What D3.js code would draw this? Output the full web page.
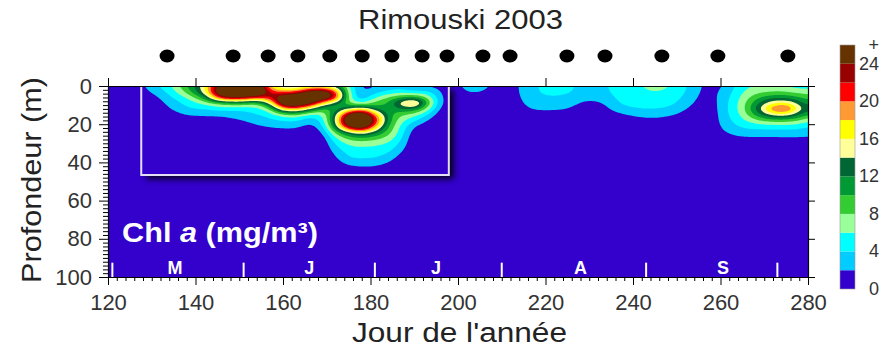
<!DOCTYPE html>
<html><head><meta charset="utf-8">
<script src="https://cdn.jsdelivr.net/npm/d3@7"></script>
<style>
body{margin:0;background:#fff;}
svg{display:block;font-family:"Liberation Sans",Arial,Helvetica,sans-serif;}
</style>
</head><body>
<svg id="chart" width="881" height="353"></svg>
<script>
// ---------------- DATA ----------------
const chartTitle = "Rimouski 2003";
const xLabel = "Jour de l'année";
const yLabel = "Profondeur (m)";
// sampling dates (black dots)
const stationDays = [133.5, 148.6, 156.6, 163.4, 170.7, 178.1, 184.9, 191.8, 197.5, 205.7, 211.9, 224.9, 233.6, 246.6, 259.4, 275.4];
// chlorophyll field: one profile per grid day, values at gridDepths (missing tail = 0)
const gridDepths = [0, 3, 6, 9, 12, 15, 18, 21, 24, 27, 30, 34, 38, 42, 46, 100];
const gridDays = [120, 127, 130, 134, 138, 142, 146, 150, 154, 157, 160, 163, 166, 169, 172, 175, 178, 181, 184, 187, 190, 193, 196, 199, 202, 205, 209, 213, 217, 221, 225, 229, 233, 237, 241, 245, 249, 253, 257, 261, 265, 269, 272, 275, 278, 280];
const chlProfiles = [
  [0],
  [1.2, 0.8, 0.3, 0],
  [3, 2.2, 1, 0.3, 0],
  [5.5, 4.5, 3.5, 2.6, 1.8, 0.8, 0],
  [10, 8.5, 6, 4.5, 3.8, 2.1, 1.0, 0.3, 0],
  [15, 15, 10.5, 6.5, 4, 2.2, 1.2, 0.5, 0],
  [27, 30, 24, 8.5, 4.8, 2.3, 1.2, 0.5, 0],
  [30, 33, 25, 9.5, 4.3, 3, 1.8, 0.8, 0],
  [30, 32, 21, 7.5, 5, 3.8, 2.8, 1.8, 0.8, 0],
  [16, 21.5, 22, 14, 7, 4.8, 3.4, 2.2, 1.2, 0.5, 0],
  [13, 19, 28, 29, 18, 7, 4.2, 2.5, 1.2, 0.4, 0],
  [12, 20, 30, 30, 19, 8, 4.3, 2.6, 1.2, 0.4, 0],
  [14, 26, 32, 26, 14, 5, 2.3, 1.2, 0.5, 0],
  [14, 28, 29, 17, 9, 5.5, 4.2, 2.8, 1.5, 0.6, 0],
  [12, 22, 23, 12, 10, 13, 14, 13, 9, 6, 4.5, 2.8, 1.5, 0.5, 0],
  [6, 6, 6.5, 8, 14, 26, 31, 26, 14, 9, 6.5, 5, 4, 1.8, 0.5, 0],
  [1.2, 1.5, 1.8, 5, 17, 31, 34, 30, 17, 10, 7, 5, 4.1, 2, 0.6, 0],
  [1.8, 3, 6, 9, 12, 19, 23, 19, 13, 9, 6.5, 5, 4, 2, 0.5, 0],
  [2.5, 4.5, 8, 10, 10, 11, 11, 10, 9, 7.5, 6, 4.6, 3, 1.2, 0.3, 0],
  [3, 5, 10, 16, 12, 8, 6.5, 5.5, 5, 4.5, 3.5, 2.2, 0.8, 0],
  [1.5, 4, 11, 20.5, 12, 7, 4.5, 1.9, 0.8, 0],
  [1.5, 4.5, 8, 10, 7, 4, 1.8, 0.7, 0],
  [1.2, 1.8, 2.2, 2.1, 1.2, 0.4, 0],
  [0.8, 0.3, 0],
  [3, 2.2, 0.8, 0],
  [3, 2.3, 0.8, 0],
  [1.2, 0.6, 0],
  [1.5, 1.5, 1.4, 1.2, 0.8, 0.3, 0],
  [3.5, 3.5, 3.2, 2.8, 2.2, 1.2, 0.4, 0],
  [5, 4.8, 3.8, 3, 2.3, 1.2, 0.4, 0],
  [4.6, 4.4, 3.5, 2.8, 2.1, 1, 0.3, 0],
  [3.2, 3, 2.4, 1.6, 0.8, 0],
  [3.5, 3.3, 2.6, 1.8, 1, 0.4, 0],
  [5, 5, 4.6, 4.2, 3.4, 1.5, 0.5, 0],
  [5.8, 5.6, 5, 4.6, 4, 2.6, 1.2, 0.4, 0],
  [6.6, 6.1, 5.3, 4.8, 4.1, 2.8, 1.5, 0.5, 0],
  [6, 5.6, 5, 4.4, 3.6, 2.2, 1, 0.3, 0],
  [3.6, 3.4, 3, 2.4, 1.6, 0.8, 0],
  [1.2, 1, 0.7, 0.4, 0.2, 0],
  [1.9, 2.6, 3.1, 3.3, 3.4, 3.3, 3.1, 2.7, 2, 1.2, 0.5, 0],
  [5.5, 6, 6.5, 7, 7, 6.5, 5.5, 4.5, 3.2, 1.8, 0.8, 0],
  [6, 7.5, 10, 12.5, 14, 12, 8, 5, 3.2, 1.8, 0.8, 0],
  [6, 8, 11.5, 16, 21, 15, 9, 5, 3.2, 1.8, 0.8, 0],
  [5.5, 8, 11.5, 17, 22.5, 15.5, 9, 5, 3.3, 1.9, 0.8, 0],
  [5, 7, 10, 13, 15, 12, 8, 5, 3.2, 1.9, 0.8, 0],
  [5, 7, 9, 11, 12.5, 10, 6, 3.9, 2.8, 1.8, 0.8, 0]
];
// colour classes (mg/m3)
const levels = [0, 2, 4, 6, 8, 10, 12, 14, 16, 18, 20, 22, 24];
const levelColors = ["#3300cc", "#00ccff", "#00ffff", "#99ff99", "#33cc33", "#009933", "#006633",
                     "#ffff99", "#ffff00", "#ff9933", "#ff0000", "#990000", "#663300"];
const colorbarTickValues = [0, 4, 8, 12, 16, 20, 24, 26];
const colorbarTickLabels = ["0", "4", "8", "12", "16", "20", "24", "+"];
const xTicks = [120, 140, 160, 180, 200, 220, 240, 260, 280];
const yTicks = [0, 20, 40, 60, 80, 100];
const monthStarts = [121, 151, 181, 210, 243, 273];
const monthNames = ["M", "J", "J", "A", "S"];
const monthLabelDays = [135.3, 166, 195, 228, 260.6];
const insetDays = [127.6, 197.9];
const insetDepths = [0, 46.6];

// ---------------- LAYOUT ----------------
const svg = d3.select("#chart");
const M = {left: 108, right: 808, top: 86, bottom: 277};
const x = d3.scaleLinear().domain([120, 280]).range([M.left, M.right]);
const y = d3.scaleLinear().domain([0, 100]).range([M.top, M.bottom]);

const defs = svg.append("defs");
defs.append("clipPath").attr("id", "plotClip").append("rect")
  .attr("x", M.left).attr("y", M.top).attr("width", M.right - M.left).attr("height", M.bottom - M.top);
defs.append("filter").attr("id", "shadowBlur").attr("x", "-20%").attr("y", "-20%").attr("width", "140%").attr("height", "140%")
  .append("feGaussianBlur").attr("stdDeviation", 3);
const bx0 = x(insetDays[0]), bx1 = x(insetDays[1]), by0 = y(insetDepths[0]), by1 = y(insetDepths[1]);
defs.append("clipPath").attr("id", "outsideBox").append("path")
  .attr("clip-rule", "evenodd")
  .attr("d", `M${M.left},${M.top}H${M.right}V${M.bottom}H${M.left}Z M${bx0},${by0}H${bx1}V${by1}H${bx0}Z`);

// ---------------- FIELD ----------------
const step = 0.5, zstep = 0.5;
const nx = Math.round((280 - 120) / step) + 1;
const ny = Math.round(100 / zstep) + 1;
function prof(ci, zi) { const p = chlProfiles[ci]; return zi < p.length ? p[zi] : 0; }
function valueAt(day, z) {
  let c = d3.bisectRight(gridDays, day) - 1;
  c = Math.max(0, Math.min(gridDays.length - 2, c));
  const tx = Math.max(0, Math.min(1, (day - gridDays[c]) / (gridDays[c + 1] - gridDays[c])));
  let r = d3.bisectRight(gridDepths, z) - 1;
  r = Math.max(0, Math.min(gridDepths.length - 2, r));
  const ty = Math.max(0, Math.min(1, (z - gridDepths[r]) / (gridDepths[r + 1] - gridDepths[r])));
  const a = prof(c, r), b = prof(c + 1, r), cc = prof(c, r + 1), d = prof(c + 1, r + 1);
  return (a * (1 - tx) + b * tx) * (1 - ty) + (cc * (1 - tx) + d * tx) * ty;
}
const values = new Float64Array(nx * ny);
for (let j = 0; j < ny; j++) for (let i = 0; i < nx; i++) values[j * nx + i] = valueAt(120 + i * step, j * zstep);
d3.blur2({data: values, width: nx, height: ny}, 2, 2);

const contours = d3.contours().size([nx, ny]).thresholds(levels.slice(1))(values);
const proj = d3.geoTransform({
  point: function(px, py) { this.stream.point(x(120 + (px - 0.5) * step), y((py - 0.5) * zstep)); }
});
const path = d3.geoPath(proj);

const plot = svg.append("g").attr("clip-path", "url(#plotClip)");
plot.append("rect").attr("x", M.left).attr("y", M.top).attr("width", M.right - M.left).attr("height", M.bottom - M.top)
  .attr("fill", levelColors[0]);
plot.selectAll("path.band").data(contours).join("path").attr("class", "band")
  .attr("d", path)
  .attr("fill", d => levelColors[levels.indexOf(d.value)]);

// inset box with drop shadow
const sh = plot.append("g").attr("clip-path", "url(#outsideBox)");
sh.append("rect").attr("x", bx0 + 5).attr("y", by0 + 4).attr("width", bx1 - bx0).attr("height", by1 - by0)
  .attr("fill", "#000").attr("opacity", 0.85).attr("filter", "url(#shadowBlur)");
plot.append("rect").attr("x", bx0).attr("y", by0).attr("width", bx1 - bx0).attr("height", by1 - by0)
  .attr("fill", "none").attr("stroke", "#e4e0f4").attr("stroke-width", 2);

// month separators and labels
plot.selectAll("line.month").data(monthStarts).join("line").attr("class", "month")
  .attr("x1", d => x(d)).attr("x2", d => x(d)).attr("y1", y(92.5)).attr("y2", y(100))
  .attr("stroke", "#fff").attr("stroke-width", 2);
plot.selectAll("text.month").data(monthNames).join("text").attr("class", "month")
  .attr("x", (d, i) => x(monthLabelDays[i])).attr("y", y(98.6))
  .attr("text-anchor", "middle").attr("fill", "#fff").attr("font-weight", "bold").attr("font-size", 18)
  .text(d => d);

// Chl a label
const lab = svg.append("text").attr("x", 122).attr("y", 242).attr("fill", "#fff")
  .attr("font-weight", "bold").attr("font-size", 27)
  .attr("textLength", 196).attr("lengthAdjust", "spacingAndGlyphs");
lab.append("tspan").text("Chl ");
lab.append("tspan").attr("font-style", "italic").text("a");
lab.append("tspan").text(" (mg/m³)");

// ---------------- AXES ----------------
function styleAxis(g, fs) {
  g.selectAll("path.domain").attr("stroke", "#000").attr("stroke-width", 1.2);
  g.selectAll(".tick line").attr("stroke", "#000");
  g.selectAll("text").attr("fill", "#333").attr("font-size", fs).attr("font-family", null);
}
const minorX = d3.range(120, 281, 2).filter(v => v % 20 !== 0);
const minorY = d3.range(0, 101, 2).filter(v => v % 20 !== 0);
svg.append("g").attr("transform", `translate(0,${M.bottom})`)
  .call(d3.axisBottom(x).tickValues(minorX).tickSize(4).tickFormat("").tickSizeOuter(0))
  .call(g => g.select(".domain").remove()).selectAll("line").attr("stroke", "#000");
svg.append("g").attr("transform", `translate(${M.left},0)`)
  .call(d3.axisLeft(y).tickValues(minorY).tickSize(5).tickFormat("").tickSizeOuter(0))
  .call(g => g.select(".domain").remove()).selectAll("line").attr("stroke", "#000");
svg.append("g").attr("transform", `translate(0,${M.bottom})`)
  .call(d3.axisBottom(x).tickValues(xTicks).tickSize(8).tickPadding(9).tickSizeOuter(0))
  .call(g => styleAxis(g, 22));
svg.append("g").attr("transform", `translate(${M.left},0)`)
  .call(d3.axisLeft(y).tickValues(yTicks).tickSize(9).tickPadding(7).tickSizeOuter(0))
  .call(g => styleAxis(g, 22));
svg.append("g").attr("transform", `translate(0,${M.top})`)
  .call(d3.axisTop(x).tickValues(xTicks).tickSize(8).tickFormat("").tickSizeOuter(0))
  .call(g => styleAxis(g, 22));
svg.append("g").attr("transform", `translate(${M.right},0)`)
  .call(d3.axisRight(y).tickValues(yTicks).tickSize(7).tickFormat("").tickSizeOuter(0))
  .call(g => styleAxis(g, 22));

// ---------------- DOTS ----------------
svg.append("g").selectAll("ellipse").data(stationDays).join("ellipse")
  .attr("cx", d => x(d)).attr("cy", 56).attr("rx", 7.5).attr("ry", 6.5).attr("fill", "#000");

// ---------------- TITLES ----------------
svg.append("text").attr("x", 460.5).attr("y", 29).attr("text-anchor", "middle")
  .attr("font-size", 27).attr("fill", "#222")
  .attr("textLength", 205).attr("lengthAdjust", "spacingAndGlyphs").text(chartTitle);
svg.append("text").attr("x", 459.5).attr("y", 342).attr("text-anchor", "middle")
  .attr("font-size", 27).attr("fill", "#222")
  .attr("textLength", 215).attr("lengthAdjust", "spacingAndGlyphs").text(xLabel);
svg.append("text").attr("transform", `translate(41,180) rotate(-90)`).attr("text-anchor", "middle")
  .attr("font-size", 27).attr("fill", "#222")
  .attr("textLength", 206).attr("lengthAdjust", "spacingAndGlyphs").text(yLabel);

// ---------------- COLOUR BAR ----------------
const cb = d3.scaleLinear().domain([0, 26]).range([289, 45]);
const cbg = svg.append("g");
cbg.selectAll("rect").data(levels).join("rect")
  .attr("x", 840).attr("width", 15)
  .attr("y", (d, i) => cb(i < levels.length - 1 ? levels[i + 1] : 26))
  .attr("height", (d, i) => cb(d) - cb(i < levels.length - 1 ? levels[i + 1] : 26))
  .attr("fill", (d, i) => levelColors[i]);
cbg.append("rect").attr("x", 840).attr("y", cb(26)).attr("width", 15).attr("height", cb(0) - cb(26))
  .attr("fill", "none").attr("stroke", "#999").attr("stroke-width", 0.6);
cbg.selectAll("text").data(colorbarTickValues).join("text")
  .attr("x", 879).attr("y", d => Math.min(cb(d) + 6, 295)).attr("text-anchor", "end")
  .attr("font-size", 18).attr("fill", "#333")
  .text((d, i) => colorbarTickLabels[i]);
</script>
</body></html>
